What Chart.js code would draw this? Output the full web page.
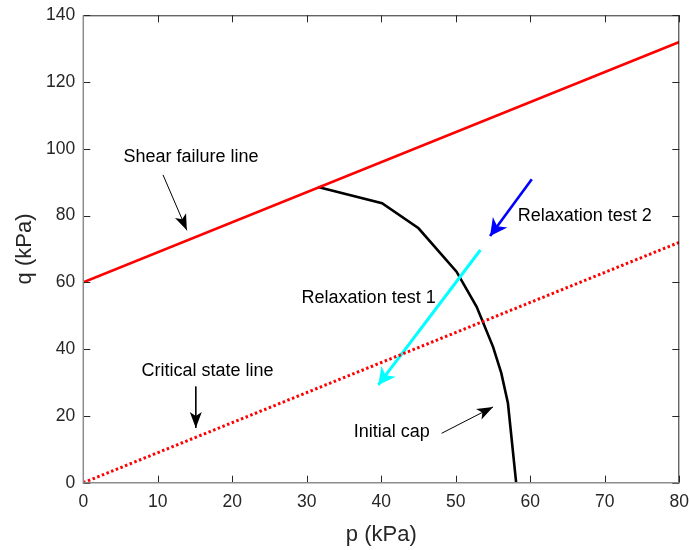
<!DOCTYPE html>
<html>
<head>
<meta charset="utf-8">
<script src="https://cdn.jsdelivr.net/npm/chart.js@4/dist/chart.umd.min.js"></script>
<style>
  body { margin: 0; background: #fff; }
  #wrap { width: 689px; height: 550px; }
</style>
</head>
<body>
<div id="wrap"><canvas id="chart" width="689" height="550"></canvas></div>
<script>
// axis ticks
const pTicks = [0, 10, 20, 30, 40, 50, 60, 70, 80];
const qTicks = [0, 20, 40, 60, 80, 100, 120, 140];

// lines
const shearP = [0, 80];
const shearQ = [60, 132];
const csP = [0, 80];
const csQ = [0, 72];
const capP = [31.5, 40.1, 45.0, 50.1, 52.8, 55.0, 56.1, 57.0, 58.1];
const capQ = [88.6, 83.7, 76.2, 63.2, 52.7, 40.7, 32.9, 23.8, 0];

// relaxation paths (start -> end)
const relax1P = [53.3, 39.6];
const relax1Q = [69.7, 29.3];
const relax2P = [60.2, 54.6];
const relax2Q = [90.9, 73.9];

// annotation arrows (tail -> tip)
const shearArrowP = [10.7, 13.9];
const shearArrowQ = [92.2, 75.6];
const csArrowP = [15.1, 15.1];
const csArrowQ = [28.8, 16.4];
const capArrowP = [48.1, 55.0];
const capArrowQ = [14.8, 22.7];

// text labels (left edge, vertical middle)
const labelText = ['Shear failure line', 'Relaxation test 2', 'Relaxation test 1', 'Critical state line', 'Initial cap'];
const labelP = [5.4, 58.3, 29.3, 7.8, 36.3];
const labelQ = [97.6, 79.9, 55.2, 33.5, 15.1];

const FONT = "Arial, 'Liberation Sans', Helvetica, sans-serif";
const AXIS_DARK = '#262626';

function pts(ps, qs) {
  return ps.map((p, i) => ({ x: p, y: qs[i] }));
}

function line(data, color, width, extra) {
  return Object.assign({
    data: data,
    borderColor: color,
    backgroundColor: color,
    borderWidth: width,
    showLine: true,
    pointRadius: 0,
    fill: false,
    tension: 0
  }, extra || {});
}

// no label overhang padding, layout.padding alone places the plot box
function noOverhang(s) {
  s.paddingLeft = 0; s.paddingRight = 0; s.paddingTop = 0; s.paddingBottom = 0;
}

// draws a "vback2" style arrowhead at the last point of the datasets flagged with arrow
const arrowHeads = {
  id: 'arrowHeads',
  afterDatasetsDraw(chart) {
    const ctx = chart.ctx;
    chart.data.datasets.forEach((ds, i) => {
      if (!ds.arrow) return;
      const meta = chart.getDatasetMeta(i);
      const n = meta.data.length;
      const a = meta.data[n - 2], b = meta.data[n - 1];
      const ang = Math.atan2(b.y - a.y, b.x - a.x);
      const len = ds.arrow.length, half = ds.arrow.width / 2, notch = ds.arrow.notch;
      ctx.save();
      ctx.translate(b.x, b.y);
      ctx.rotate(ang);
      ctx.fillStyle = ds.borderColor;
      ctx.beginPath();
      ctx.moveTo(0, 0);
      ctx.lineTo(-len, -half);
      ctx.lineTo(-len + notch, 0);
      ctx.lineTo(-len, half);
      ctx.closePath();
      ctx.fill();
      ctx.restore();
    });
  }
};

const notes = {
  id: 'notes',
  afterDatasetsDraw(chart) {
    const { ctx, scales: { x, y } } = chart;
    ctx.save();
    ctx.font = '18px ' + FONT;
    ctx.fillStyle = '#000';
    ctx.textAlign = 'left';
    ctx.textBaseline = 'middle';
    labelText.forEach((t, i) => {
      ctx.fillText(t, x.getPixelForValue(labelP[i]), y.getPixelForValue(labelQ[i]));
    });
    ctx.restore();
  }
};

// MATLAB-like box with inward ticks on all four sides
const boxTicks = {
  id: 'boxTicks',
  afterDraw(chart) {
    const { ctx, chartArea: { left, right, top, bottom }, scales: { x, y } } = chart;
    const tl = 7;
    ctx.save();
    ctx.lineWidth = 1;
    ctx.strokeStyle = AXIS_DARK;
    ctx.beginPath();
    ctx.moveTo(left, top + 0.5); ctx.lineTo(right, top + 0.5);
    ctx.moveTo(right - 0.5, top); ctx.lineTo(right - 0.5, bottom);
    pTicks.forEach(v => {
      const px = Math.round(x.getPixelForValue(v)) + 0.5;
      ctx.moveTo(px, bottom); ctx.lineTo(px, bottom - tl);
      ctx.moveTo(px, top); ctx.lineTo(px, top + tl);
    });
    qTicks.forEach(v => {
      const py = Math.round(y.getPixelForValue(v)) + 0.5;
      ctx.moveTo(left, py); ctx.lineTo(left + tl, py);
      ctx.moveTo(right, py); ctx.lineTo(right - tl, py);
    });
    ctx.stroke();
    ctx.strokeStyle = '#8c8c8c';
    ctx.lineWidth = 1.5;
    ctx.beginPath();
    ctx.moveTo(left, top); ctx.lineTo(left, bottom);
    ctx.lineTo(right, bottom);
    ctx.stroke();
    ctx.restore();
  }
};

new Chart(document.getElementById('chart'), {
  type: 'scatter',
  data: {
    datasets: [
      line(pts(shearP, shearQ), '#ff0000', 2.6),
      line(pts(csP, csQ), '#ff0000', 3, { borderDash: [2.5, 2.5] }),
      line(pts(relax1P, relax1Q), '#00ffff', 3, { arrow: { length: 17, width: 18, notch: 5 } }),
      line(pts(relax2P, relax2Q), '#0000ff', 2.6, { arrow: { length: 17, width: 18, notch: 5 } }),
      line(pts(capP, capQ), '#000000', 2.6),
      line(pts(shearArrowP, shearArrowQ), '#000000', 1, { arrow: { length: 16, width: 12, notch: 4 } }),
      line(pts(csArrowP, csArrowQ), '#000000', 1, { arrow: { length: 16, width: 12, notch: 4 } }),
      line(pts(capArrowP, capArrowQ), '#000000', 1, { arrow: { length: 16, width: 12, notch: 4 } })
    ]
  },
  options: {
    responsive: false,
    animation: false,
    layout: { padding: { left: 0, right: 9.7, top: 15.3, bottom: 0 } },
    plugins: { legend: { display: false }, tooltip: { enabled: false } },
    scales: {
      x: {
        type: 'linear',
        min: 0, max: 80,
        afterBuildTicks: s => { s.ticks = pTicks.map(v => ({ value: v })); },
        afterFit: s => { s.height = 67.3; noOverhang(s); },
        grid: { display: false, drawTicks: false },
        border: { display: false },
        ticks: { color: AXIS_DARK, padding: 9, font: { family: FONT, size: 17.5 } },
        title: { display: true, text: 'p (kPa)', color: AXIS_DARK, padding: { top: 0, bottom: 2 }, font: { family: FONT, size: 22 } }
      },
      y: {
        type: 'linear',
        min: 0, max: 140,
        afterBuildTicks: s => { s.ticks = qTicks.map(v => ({ value: v })); },
        afterFit: s => { s.width = 83.3; noOverhang(s); },
        grid: { display: false, drawTicks: false },
        border: { display: false },
        ticks: { color: AXIS_DARK, padding: 8, font: { family: FONT, size: 17.5 } },
        title: { display: true, text: 'q (kPa)', color: AXIS_DARK, padding: { top: 12, bottom: 0 }, font: { family: FONT, size: 22 } }
      }
    }
  },
  plugins: [arrowHeads, notes, boxTicks]
});
</script>
</body>
</html>
